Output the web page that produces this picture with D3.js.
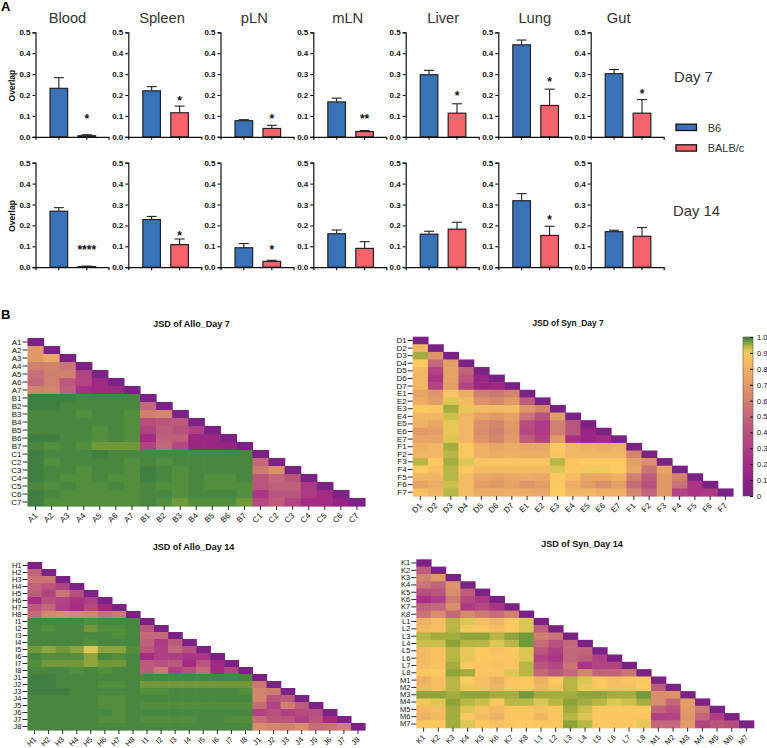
<!DOCTYPE html>
<html><head><meta charset="utf-8">
<script src="https://cdnjs.cloudflare.com/ajax/libs/d3/7.8.5/d3.min.js"></script>
<style>html,body{margin:0;padding:0;background:#fff}svg{display:block}text{font-family:"Liberation Sans",Arial,sans-serif}</style>
</head><body><svg id="c" width="767" height="748"></svg>
<script>
const tissues=["Blood","Spleen","pLN","mLN","Liver","Lung","Gut"];
const groups=["B6","BALB/c"];
const b6Day7=[.232,.22,.077,.167,.297,.44,.302];
const b6Day7Top=[.283,.24,.082,.185,.318,.463,.322];
const balbDay7=[.005,.115,.04,.025,.113,.15,.113];
const balbDay7Top=[.01,.147,.055,.03,.158,.228,.178];
const b6Day14=[.268,.228,.093,.16,.158,.318,.17];
const b6Day14Top=[.285,.243,.113,.178,.172,.352,.177];
const balbDay14=[.003,.108,.028,.09,.182,.152,.148];
const balbDay14Top=[.005,.135,.033,.122,.215,.196,.19];
const starsDay7=["*","*","*","**","*","*","*"];
const starsDay7At=[.097,.184,.097,.097,.208,.273,.216];
const starsDay14=["****","*","*","","","*",""];
const starsDay14At=[.096,.162,.096,0,0,.24,0];
const overlapTicks=[0,.1,.2,.3,.4,.5];

const allo7=[[0],[70,0],[70,77,0],[60,61,55,0],[53,60,60,33,0],[50,60,43,33,18,0],[62,62,46,22,19,17,0],
[100,100,100,99,99,99,99,0],[100,100,99,99,99,99,99,50,0],[99,99,99,98,99,99,98,60,62,0],[99,99,99,99,99,99,98,38,42,43,0],[99,99,99,99,98,99,98,32,45,40,30,0],[100,100,99,99,98,99,98,20,47,46,16,15,0],[99,98,99,98,97,97,97,33,50,35,15,15,13,0],
[100,99,99,99,100,99,99,99,99,99,99,99,99,99,0],[100,98,99,99,99,99,98,99,98,99,99,99,99,99,50,0],[100,99,99,98,99,99,98,100,99,98,99,99,99,99,58,66,0],[100,99,98,98,99,98,98,100,99,98,99,98,98,99,42,50,42,0],[99,98,99,98,98,99,98,99,98,98,99,98,98,98,42,47,47,27,0],[100,99,98,98,98,98,98,99,99,98,99,99,99,98,25,42,42,28,20,0],[100,98,98,98,98,98,98,99,98,97,98,98,98,97,35,45,32,20,20,13,0]];
const syn7=[[0],[82,0],[95,68,0],[89,50,72,0],[83,32,74,47,0],[82,25,74,42,15,0],[82,33,72,32,15,18,0],
[74,68,87,78,60,58,62,0],[79,72,92,84,67,64,70,45,0],[89,87,95,91,84,84,84,68,62,0],[82,82,93,82,74,70,74,55,40,72,0],[80,75,91,82,66,62,70,38,28,60,42,0],[70,72,91,82,65,60,68,35,28,60,42,15,0],[75,75,92,82,68,62,70,45,32,70,22,15,20,0],
[80,82,95,88,80,76,78,76,76,88,82,80,78,80,0],[82,82,94,88,80,78,80,78,78,87,82,82,82,82,62,0],[94,88,95,92,87,87,87,87,87,94,87,89,89,89,73,66,0],[89,85,94,88,84,84,84,84,84,92,88,90,90,89,75,55,74,0],[82,82,94,84,76,74,76,78,76,88,84,76,76,80,60,45,70,60,0],[74,78,93,84,72,70,74,68,72,88,78,72,66,73,52,40,70,55,25,0],[86,82,94,84,78,78,80,78,76,89,82,82,80,80,62,48,70,32,25,28,0]];
const allo14=[[0],[48,0],[55,56,0],[48,42,32,0],[45,32,55,38,0],[22,40,33,24,30,0],[43,50,30,20,35,18,0],[52,63,65,63,62,53,58,0],
[99,99,99,99,98,99,99,99,0],[99,98,99,99,97,98,98,99,42,0],[99,99,99,99,99,99,98,99,50,50,0],[99,99,99,99,98,99,99,99,47,28,44,0],[97,96,97,96,92,96,96,98,42,30,50,38,0],[99,98,98,98,96,99,98,99,20,30,30,25,25,0],[98,97,97,97,96,97,97,99,43,38,44,20,42,18,0],[99,99,99,98,99,98,99,99,45,57,30,40,52,20,33,0],
[100,100,99,99,99,99,99,99,99,99,99,99,99,99,99,99,0],[100,100,99,99,99,98,98,99,97,97,97,97,97,97,97,97,56,0],[100,100,100,99,99,99,99,99,98,98,99,99,99,99,99,98,62,60,0],[99,99,99,99,99,98,98,99,99,99,99,99,99,99,99,99,62,42,44,0],[99,99,99,99,99,98,98,99,98,98,98,98,98,98,98,98,52,32,60,45,0],[99,99,99,99,99,99,98,99,99,99,99,99,99,99,99,99,32,40,30,36,38,0],[99,99,99,99,99,98,98,99,98,98,98,98,99,99,98,98,52,42,42,30,42,20,0],[99,99,99,99,99,99,99,99,99,99,99,99,99,99,99,99,65,62,60,65,52,55,60,0]];
const syn14=[[0],[45,0],[62,70,0],[55,48,68,0],[38,42,65,45,0],[22,30,58,36,27,0],[47,50,65,28,34,25,0],[55,65,50,64,58,52,60,0],
[80,84,94,92,85,82,88,92,0],[83,85,94,90,87,85,88,92,46,0],[94,95,95,96,96,94,96,97,60,55,0],[93,93,96,94,94,92,94,97,52,40,50,0],[84,86,94,91,88,86,88,92,42,30,50,48,0],[84,86,94,91,88,87,87,92,33,25,50,45,30,0],[84,86,95,88,87,86,87,94,42,35,55,25,33,32,0],[88,89,96,95,87,87,92,94,50,42,50,62,48,48,55,0],
[80,85,94,89,85,80,87,88,80,88,94,92,88,85,87,88,0],[83,85,94,91,85,82,87,88,82,86,94,91,88,85,86,89,45,0],[96,96,95,96,96,95,95,97,95,95,95,96,96,95,95,97,65,68,0],[90,92,96,94,93,88,94,94,92,94,96,95,94,92,93,95,65,50,72,0],[83,85,95,92,86,84,88,88,86,88,95,93,88,88,88,89,48,40,70,58,0],[80,83,95,88,84,80,87,87,82,87,94,92,88,87,87,87,30,32,68,50,30,0],[88,88,95,92,88,86,88,89,88,88,96,94,88,88,88,91,50,50,72,33,42,38,0]];
const allo7Labels=["A","B","C"], syn7Labels=["D","E","F"], allo14Labels=["H","I","J"], syn14Labels=["K","L","M"];
const allo7Counts=[7,7,7], syn7Counts=[7,7,7], allo14Counts=[8,8,8], syn14Counts=[8,8,7];
const legendTicks=[0,.1,.2,.3,.4,.5,.6,.7,.8,.9,1];
const cmapStops=[0,.1,.2,.3,.4,.5,.6,.7,.8,.89,.92,.94,.96,.98,1];
const cmapColors=["#7a2385","#8f2282","#a42a84","#ae3f84","#b8527c","#c3677a","#d0806f","#e09a68","#eeb064","#fcca60","#dcc654","#b8b644","#8ea43a","#538d3e","#3f7f40"];

const svg=d3.select("#c");
const color=d3.scaleLinear().domain(cmapStops).range(cmapColors);
const blue="#3a72b8", red="#f4646a", ink="#111";
const sansFont='"Liberation Sans"';

// Panel A
const axisX=[35.5,128.3,220.5,313.3,405.7,498.3,590.7];
const titleOffset=[32,33.7,33.8,34.4,37.5,36.5,28];
function row(top,bottom,means,tops,balb,balbTops,stars,starsAt,showTitles){
  const y=d3.scaleLinear().domain([0,.5]).range([bottom,top]);
  tissues.forEach((t,i)=>{
    const g=svg.append("g");
    const x=d3.scaleBand().domain(groups).range([axisX[i],axisX[i]+73]).paddingInner(.37).paddingOuter(.49).align(.53);
    const vals=[means[i],balb[i]], errs=[tops[i],balbTops[i]];
    groups.forEach((k,j)=>{
      const cx=x(k)+x.bandwidth()/2;
      g.append("line").attr("x1",cx).attr("x2",cx).attr("y1",y(vals[j])).attr("y2",y(errs[j])).attr("stroke","#222").attr("stroke-width",1.1);
      g.append("line").attr("x1",cx-5).attr("x2",cx+5).attr("y1",y(errs[j])).attr("y2",y(errs[j])).attr("stroke","#222").attr("stroke-width",1.1);
      g.append("rect").attr("x",x(k)).attr("width",x.bandwidth()).attr("y",y(vals[j])).attr("height",y(0)-y(vals[j])).attr("fill",j?red:blue).attr("stroke","#222").attr("stroke-width",1.2);
    });
    const ya=g.append("g").attr("transform",`translate(${axisX[i]},0)`).call(d3.axisLeft(y).tickValues(overlapTicks).tickFormat(d3.format(".1f")).tickSize(3).tickPadding(2));
    ya.selectAll("text").attr("font-size",8).attr("font-weight","bold").attr("fill",ink).style("font-family",sansFont);
    const xa=g.append("g").attr("transform",`translate(0,${bottom})`).call(d3.axisBottom(x).tickSize(3).tickFormat(""));
    g.selectAll(".domain").attr("stroke",ink).attr("stroke-width",1.2);
    g.selectAll(".tick line").attr("stroke",ink).attr("stroke-width",1.1);
    if(stars[i]) g.append("text").attr("x",x("BALB/c")+x.bandwidth()/2).attr("y",y(starsAt[i])).attr("dy",".55em").attr("text-anchor","middle").attr("font-size",12).attr("font-weight","bold").attr("fill",ink).text(stars[i]);
    if(showTitles) g.append("text").attr("x",axisX[i]+titleOffset[i]).attr("y",23.3).attr("text-anchor","middle").attr("font-size",14.7).attr("fill","#333").text(t);
    if(i==0) g.append("text").attr("transform",`translate(14.5,${(top+bottom)/2+1}) rotate(-90)`).attr("text-anchor","middle").attr("font-size",8.5).attr("font-weight","bold").attr("fill",ink).text("Overlap");
  });
}
row(32.3,136.8,b6Day7,b6Day7Top,balbDay7,balbDay7Top,starsDay7,starsDay7At,true);
row(162.7,267.2,b6Day14,b6Day14Top,balbDay14,balbDay14Top,starsDay14,starsDay14At,false);

const txt=(x,y,s,size,o={})=>svg.append("text").attr("x",x).attr("y",y).attr("font-size",size).attr("fill",o.fill||"#333").attr("font-weight",o.bold?"bold":null).attr("text-anchor",o.anchor||"start").text(s);
txt(1,11,"A",13,{bold:true,fill:"#000"});
txt(1,319,"B",13,{bold:true,fill:"#000"});
txt(674,81.5,"Day 7",14.8);
txt(673,216,"Day 14",14.8);
[[124.2,blue,"B6"],[144.8,red,"BALB/c"]].forEach(([yy,c,s])=>{
  svg.append("rect").attr("x",676).attr("y",yy).attr("width",20.5).attr("height",6.3).attr("fill",c).attr("stroke",ink).attr("stroke-width",1.3);
  txt(707.7,yy+7.3,s,11);
});

// Panel B
function heat(m,letters,counts,x0,x1,y0,y1,title,tx,ty,tfs,fs){
  const labels=[];
  letters.forEach((l,i)=>d3.range(1,counts[i]+1).forEach(n=>labels.push(l+n)));
  const x=d3.scaleBand().domain(labels).range([x0,x1]);
  const y=d3.scaleBand().domain(labels).range([y0,y1]);
  const g=svg.append("g");
  m.forEach((r,i)=>r.forEach((v,j)=>{
    g.append("rect").attr("x",x(labels[j])).attr("y",y(labels[i])).attr("width",x.bandwidth()+.6).attr("height",y.bandwidth()+.6).attr("fill",color(v/100));
  }));
  const ay=g.append("g").attr("transform",`translate(${x0},0)`).call(d3.axisLeft(y).tickSize(5).tickPadding(1));
  ay.selectAll("text").attr("font-size",fs).attr("fill",ink).style("font-family",sansFont);
  const ax=g.append("g").attr("transform",`translate(0,${y1})`).call(d3.axisBottom(x).tickSize(4).tickPadding(1));
  ax.selectAll("text").attr("font-size",fs).attr("fill",ink).style("font-family",sansFont).attr("text-anchor","end").attr("y",0).attr("dy",".35em").attr("dx",-1).attr("transform","translate(1,7.5) rotate(-45)");
  g.selectAll(".domain").remove();
  g.selectAll(".tick line").attr("stroke",ink).attr("stroke-width",.9);
  txt(tx,ty,title,tfs,{bold:true,fill:"#111",anchor:"middle"});
}
heat(allo7,allo7Labels,allo7Counts,27.5,365,338,506,"JSD of Allo_Day 7",191.5,326.7,9,8);
heat(syn7,syn7Labels,syn7Counts,412.7,733,336.7,496,"JSD of Syn_Day 7",568,326,8.4,8);
heat(allo14,allo14Labels,allo14Counts,27.5,365,562,730,"JSD of Allo_Day 14",193.5,550,9,7.5);
heat(syn14,syn14Labels,syn14Counts,416.3,753.7,559.3,727.7,"JSD of Syn_Day 14",582,547,9,7.5);

// colour legend
const yl=d3.scaleLinear().domain([0,1]).range([496,337]);
const stops=d3.range(0,1.0001,.01);
const defs=svg.append("defs").append("linearGradient").attr("id","cb").attr("x1",0).attr("x2",0).attr("y1",1).attr("y2",0);
stops.forEach(s=>defs.append("stop").attr("offset",s).attr("stop-color",color(s)));
svg.append("rect").attr("x",743).attr("y",337).attr("width",10).attr("height",159).attr("fill","url(#cb)").attr("stroke","#555").attr("stroke-width",.6);
const al=svg.append("g").attr("transform","translate(753,0)").call(d3.axisRight(yl).tickValues(legendTicks).tickFormat(d=>d===0?"0":d3.format(".1f")(d)).tickSize(-3).tickPadding(5));
al.select(".domain").remove();
al.selectAll("line").attr("stroke",ink);
al.selectAll("text").attr("font-size",7.5).attr("fill",ink).attr("x",4).style("font-family",sansFont);
</script></body></html>
